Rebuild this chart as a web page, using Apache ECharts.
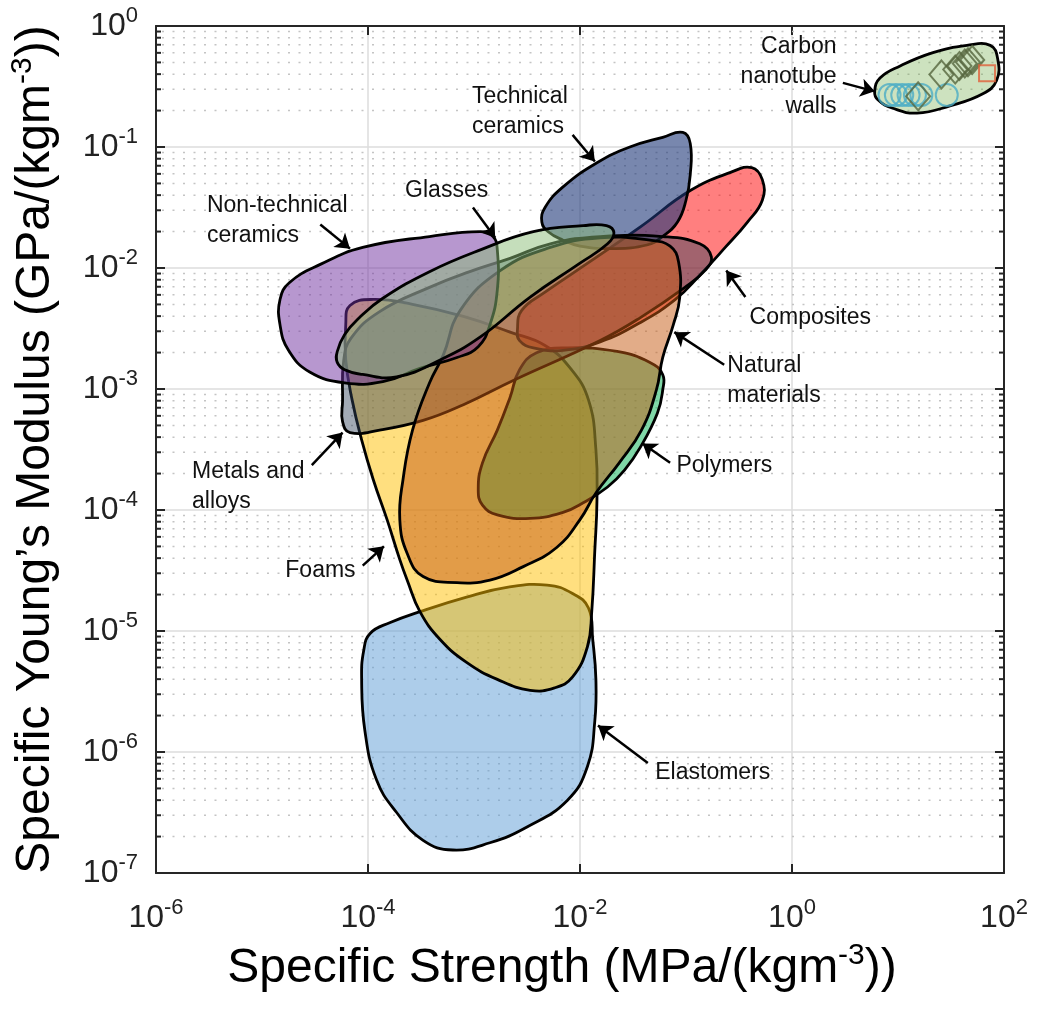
<!DOCTYPE html>
<html>
<head>
<meta charset="utf-8">
<script src="https://cdn.jsdelivr.net/npm/echarts@6/dist/echarts.min.js"></script>
<style>html,body{margin:0;padding:0;background:#fff}#chart{width:1037px;height:1010px}</style>
</head>
<body>
<div id="chart"></div>
<script>
// All coordinates are [log10(specific strength), log10(specific modulus)].
const xTickExponents = [-6, -4, -2, 0, 2];
const yTickExponents = [-7, -6, -5, -4, -3, -2, -1, 0];

const elastomers = [[-3.98,-5.02],[-3.79,-4.93],[-3.51,-4.84],[-3.07,-4.72],[-2.69,-4.64],[-2.31,-4.62],[-2.07,-4.69],[-1.92,-4.81],[-1.88,-5.07],[-1.85,-5.40],[-1.86,-5.74],[-1.93,-6.12],[-2.12,-6.40],[-2.50,-6.62],[-2.85,-6.75],[-3.20,-6.81],[-3.48,-6.73],[-3.73,-6.50],[-3.92,-6.23],[-4.03,-5.82],[-4.06,-5.40],[-4.04,-5.16]];
const foams = [[-4.17,-2.31],[-3.95,-2.26],[-3.58,-2.30],[-3.10,-2.40],[-2.66,-2.53],[-2.33,-2.64],[-2.09,-2.83],[-1.92,-3.09],[-1.85,-3.50],[-1.84,-3.92],[-1.86,-4.33],[-1.89,-4.85],[-1.93,-5.13],[-2.07,-5.38],[-2.24,-5.47],[-2.47,-5.49],[-2.78,-5.40],[-3.07,-5.26],[-3.32,-5.07],[-3.51,-4.84],[-3.63,-4.58],[-3.70,-4.41],[-3.82,-4.08],[-3.95,-3.75],[-4.06,-3.42],[-4.15,-3.09],[-4.21,-2.76],[-4.21,-2.47]];
const polymers = [[-2.96,-3.83],[-2.92,-3.61],[-2.78,-3.34],[-2.66,-3.07],[-2.57,-2.84],[-2.41,-2.70],[-2.12,-2.66],[-1.65,-2.69],[-1.34,-2.78],[-1.22,-2.88],[-1.22,-3.01],[-1.27,-3.20],[-1.43,-3.48],[-1.58,-3.67],[-1.74,-3.81],[-1.97,-3.94],[-2.16,-4.02],[-2.47,-4.07],[-2.78,-4.04],[-2.92,-3.96]];
const composites = [[-2.59,-2.51],[-2.55,-2.35],[-2.33,-2.20],[-1.91,-1.95],[-1.43,-1.66],[-0.96,-1.36],[-0.58,-1.21],[-0.38,-1.17],[-0.28,-1.27],[-0.28,-1.44],[-0.42,-1.62],[-0.63,-1.83],[-0.87,-2.06],[-1.10,-2.26],[-1.43,-2.45],[-1.81,-2.61],[-2.16,-2.68],[-2.44,-2.66],[-2.57,-2.60]];
const technicalCeramics = [[-2.36,-1.62],[-2.33,-1.50],[-2.16,-1.33],[-1.84,-1.13],[-1.53,-1.00],[-1.22,-0.92],[-1.03,-0.88],[-0.96,-0.97],[-0.96,-1.23],[-1.00,-1.44],[-1.08,-1.62],[-1.22,-1.74],[-1.37,-1.81],[-1.69,-1.84],[-2.00,-1.82],[-2.16,-1.77],[-2.30,-1.70]];
const metalsAlloys = [[-4.24,-3.10],[-4.23,-2.77],[-4.16,-2.58],[-3.89,-2.36],[-3.42,-2.16],[-3.04,-2.03],[-2.66,-1.92],[-2.28,-1.80],[-1.81,-1.74],[-1.22,-1.74],[-0.87,-1.80],[-0.76,-1.91],[-0.82,-2.02],[-1.01,-2.16],[-1.43,-2.41],[-1.81,-2.60],[-2.63,-2.93],[-3.10,-3.13],[-3.48,-3.26],[-3.89,-3.34],[-4.17,-3.36],[-4.24,-3.27]];
const naturalMaterials = [[-3.29,-2.72],[-3.13,-2.35],[-2.75,-2.02],[-2.28,-1.83],[-1.81,-1.75],[-1.34,-1.77],[-1.15,-1.82],[-1.07,-1.95],[-1.06,-2.25],[-1.12,-2.47],[-1.22,-2.74],[-1.28,-3.01],[-1.42,-3.34],[-1.63,-3.61],[-1.85,-3.86],[-2.00,-4.08],[-2.22,-4.31],[-2.54,-4.47],[-2.85,-4.58],[-3.16,-4.60],[-3.48,-4.55],[-3.63,-4.36],[-3.70,-4.08],[-3.67,-3.75],[-3.58,-3.34],[-3.42,-2.95]];
const nonTechnicalCeramics = [[-4.83,-2.26],[-4.74,-2.12],[-4.45,-1.97],[-4.05,-1.83],[-3.42,-1.74],[-2.94,-1.70],[-2.82,-1.74],[-2.78,-1.85],[-2.78,-2.18],[-2.85,-2.47],[-2.96,-2.65],[-3.16,-2.74],[-3.51,-2.83],[-3.86,-2.94],[-4.22,-2.95],[-4.55,-2.86],[-4.75,-2.68],[-4.83,-2.47]];
const glasses = [[-4.29,-2.69],[-4.22,-2.55],[-4.08,-2.41],[-3.86,-2.25],[-3.42,-2.03],[-2.94,-1.85],[-2.44,-1.70],[-1.97,-1.65],[-1.75,-1.65],[-1.68,-1.71],[-1.74,-1.80],[-2.00,-1.96],[-2.47,-2.24],[-2.94,-2.57],[-3.32,-2.76],[-3.73,-2.90],[-4.05,-2.88],[-4.22,-2.84],[-4.29,-2.78]];
const carbonNanotubeWalls = [[0.78,-0.54],[0.83,-0.43],[1.02,-0.33],[1.33,-0.22],[1.65,-0.16],[1.87,-0.16],[1.94,-0.27],[1.93,-0.45],[1.80,-0.56],[1.49,-0.66],[1.18,-0.72],[0.95,-0.68],[0.81,-0.61]];

const cntCircles = [[0.92,-0.57],[0.98,-0.57],[1.04,-0.57],[1.10,-0.57],[1.16,-0.57],[1.22,-0.57],[1.46,-0.57]];
const cntDiamonds = [[1.19,-0.58],[1.41,-0.40],[1.54,-0.36],[1.58,-0.33],[1.63,-0.31],[1.66,-0.30],[1.70,-0.28]];
const cntSquares = [[1.84,-0.39]];

const annLabels = ['Carbon\nnanotube\nwalls','Technical\nceramics','Glasses','Non-technical\nceramics','Composites','Natural\nmaterials','Polymers','Metals and\nalloys','Foams','Elastomers'];
const annTextAt = [[0.42,-0.42],[-3.02,-0.71],[-3.65,-1.36],[-5.52,-1.61],[-0.40,-2.41],[-0.61,-2.93],[-1.09,-3.63],[-5.66,-3.81],[-4.78,-4.50],[-1.29,-6.17]];
const annArrowTail = [[0.48,-0.47],[-2.07,-0.90],[-3.01,-1.50],[-4.45,-1.64],[-0.44,-2.24],[-0.64,-2.80],[-1.15,-3.61],[-4.53,-3.63],[-4.05,-4.46],[-1.36,-6.09]];
const annArrowHead = [[0.78,-0.54],[-1.86,-1.12],[-2.80,-1.75],[-4.17,-1.84],[-0.62,-2.02],[-1.11,-2.53],[-1.41,-3.45],[-4.24,-3.36],[-3.85,-4.30],[-1.83,-5.78]];

const FONT = '"Liberation Sans", Arial, Helvetica, sans-serif';
const toVal = p => [Math.pow(10, p[0]), Math.pow(10, p[1])];
const xMin = Math.pow(10, xTickExponents[0]), xMax = Math.pow(10, xTickExponents[xTickExponents.length-1]);
const yMin = Math.pow(10, yTickExponents[0]), yMax = Math.pow(10, yTickExponents[yTickExponents.length-1]);

// minor grid positions (2..9 x 10^e)
const minorY = [];
for (let i = 0; i < yTickExponents.length - 1; i++) {
  for (let k = 2; k <= 9; k++) minorY.push([xMin, k * Math.pow(10, yTickExponents[i])]);
}

function blob(name, pts, fill) {
  const vals = pts.map(toVal);
  return {
    type: 'custom', name, coordinateSystem: 'cartesian2d', silent: true,
    data: vals, encode: {x: 0, y: 1},
    renderItem: (params, api) => {
      if (params.dataIndex !== 0) return null;
      const points = vals.map(v => api.coord(v));
      return {type: 'polygon', shape: {points, smooth: 0.45},
        style: {fill, stroke: '#000', lineWidth: 2.8, lineJoin: 'round'}};
    }
  };
}

const supLabel = v => {
  const e = Math.round(Math.log10(v));
  return '{b|10}{s|' + e + '}';
};
const tickRich = {
  b: {fontSize: 32, fontFamily: FONT, color: '#222'},
  s: {fontSize: 22, fontFamily: FONT, color: '#222', padding: [0, 0, 20, 0]}
};
const axisLineStyle = {color: '#262626', width: 2};

const series = [
  {
    type: 'custom', name: 'minorGrid', coordinateSystem: 'cartesian2d', silent: true, z: 1,
    data: minorY, encode: {x: 0, y: 1},
    renderItem: (params, api) => {
      const v = api.value(1);
      const p0 = api.coord([xMin, v]), p1 = api.coord([xMax, v]);
      return {type: 'group', children: [
        {type: 'line', shape: {x1: p0[0] + 6, y1: p0[1], x2: p1[0] - 6, y2: p1[1]},
          style: {stroke: '#c4c4c4', lineWidth: 1.5, lineDash: [2, 8.5]}},
        {type: 'line', shape: {x1: p0[0], y1: p0[1], x2: p0[0] + 5, y2: p0[1]}, style: {stroke: '#262626', lineWidth: 2}},
        {type: 'line', shape: {x1: p1[0] - 5, y1: p1[1], x2: p1[0], y2: p1[1]}, style: {stroke: '#262626', lineWidth: 2}}
      ]};
    }
  },
  blob('Elastomers', elastomers, 'rgba(91,155,213,0.5)'),
  blob('Foams', foams, 'rgba(255,192,0,0.5)'),
  blob('Polymers', polymers, 'rgba(0,176,80,0.5)'),
  blob('Composites', composites, 'rgba(255,0,0,0.5)'),
  blob('Technical ceramics', technicalCeramics, 'rgba(30,55,120,0.6)'),
  blob('Metals and alloys', metalsAlloys, 'rgba(48,66,91,0.45)'),
  blob('Natural materials', naturalMaterials, 'rgba(197,90,17,0.5)'),
  blob('Non-technical ceramics', nonTechnicalCeramics, 'rgba(112,48,160,0.5)'),
  blob('Glasses', glasses, 'rgba(140,190,120,0.5)'),
  blob('Carbon nanotube walls', carbonNanotubeWalls, 'rgba(112,173,71,0.35)'),
  {type: 'scatter', name: 'CNT circles', data: cntCircles.map(toVal), symbol: 'circle', symbolSize: 22, silent: true,
    itemStyle: {color: 'rgba(0,0,0,0)', borderColor: '#4bacc6', borderWidth: 2}},
  {type: 'scatter', name: 'CNT diamonds', data: cntDiamonds.map(toVal), symbol: 'diamond', symbolSize: [24, 28], silent: true,
    itemStyle: {color: 'rgba(0,0,0,0)', borderColor: '#56663f', borderWidth: 2}},
  {type: 'scatter', name: 'CNT squares', data: cntSquares.map(toVal), symbol: 'rect', symbolSize: 16, silent: true,
    itemStyle: {color: 'rgba(0,0,0,0)', borderColor: '#e0603a', borderWidth: 2}},
  {type: 'lines', name: 'arrows', coordinateSystem: 'cartesian2d', silent: true, z: 5,
    symbol: ['none', 'arrow'], symbolSize: 14,
    lineStyle: {color: '#000', width: 2.5, opacity: 1},
    data: annArrowTail.map((t, i) => ({coords: [toVal(t), toVal(annArrowHead[i])]}))},
  {type: 'custom', name: 'labels', coordinateSystem: 'cartesian2d', silent: true, z: 5,
    data: annTextAt.map(toVal), encode: {x: 0, y: 1},
    renderItem: (params, api) => {
      const i = params.dataIndex;
      const p = api.coord([api.value(0), api.value(1)]);
      return {type: 'text', x: p[0], y: p[1], style: {text: annLabels[i], fill: '#111', fontSize: 23,
        fontFamily: FONT, lineHeight: 30, align: i === 0 ? 'right' : 'left', verticalAlign: 'middle'}};
    }}
];

const chart = echarts.init(document.getElementById('chart'), null, {renderer: 'canvas'});
chart.setOption({
  animation: false,
  backgroundColor: '#fff',
  grid: {left: 156, top: 26, right: 33, bottom: 137, containLabel: false},
  xAxis: [{
    type: 'log', logBase: 10, min: xMin, max: xMax, interval: 2, position: 'bottom',
    axisLine: {show: true, onZero: false, lineStyle: axisLineStyle},
    axisTick: {show: true, inside: true, length: 9, lineStyle: axisLineStyle},
    axisLabel: {margin: 24, formatter: supLabel, rich: tickRich},
    splitLine: {show: true, lineStyle: {color: '#dcdcdc', width: 1.5}},
    minorTick: {show: false}, minorSplitLine: {show: false},
    name: 'Specific Strength (MPa/(kgm{s|-3}))', nameLocation: 'middle', nameGap: 68,
    nameTextStyle: {fontSize: 48, fontFamily: FONT, color: '#000', padding: [0, 36, 0, 0],
      rich: {s: {fontSize: 30, fontFamily: FONT, color: '#000', padding: [0, 0, 26, 0]}}}
  }, {
    type: 'log', logBase: 10, min: xMin, max: xMax, interval: 2, position: 'top',
    axisLine: {show: true, onZero: false, lineStyle: axisLineStyle},
    axisTick: {show: true, inside: true, length: 9, lineStyle: axisLineStyle},
    axisLabel: {show: false}, splitLine: {show: false}
  }],
  yAxis: [{
    type: 'log', logBase: 10, min: yMin, max: yMax, interval: 1, position: 'left',
    axisLine: {show: true, onZero: false, lineStyle: axisLineStyle},
    axisTick: {show: true, inside: true, length: 9, lineStyle: axisLineStyle},
    axisLabel: {margin: 18, formatter: supLabel, rich: tickRich},
    splitLine: {show: true, lineStyle: {color: '#dcdcdc', width: 1.5}},
    minorTick: {show: false}, minorSplitLine: {show: false},
    name: 'Specific Young\u2019s Modulus (GPa/(kgm{s|-3}))', nameLocation: 'middle', nameGap: 92,
    nameTextStyle: {fontSize: 48, fontFamily: FONT, color: '#000',
      rich: {s: {fontSize: 30, fontFamily: FONT, color: '#000', padding: [0, 0, 26, 0]}}}
  }, {
    type: 'log', logBase: 10, min: yMin, max: yMax, interval: 1, position: 'right',
    axisLine: {show: true, onZero: false, lineStyle: axisLineStyle},
    axisTick: {show: true, inside: true, length: 9, lineStyle: axisLineStyle},
    axisLabel: {show: false}, splitLine: {show: false}
  }],
  series
});
</script>
</body>
</html>
